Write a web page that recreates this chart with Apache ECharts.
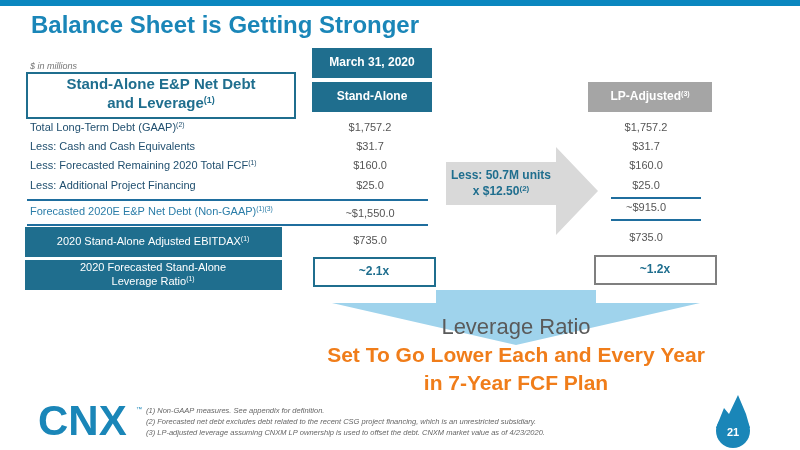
<!DOCTYPE html><html><head><meta charset="utf-8">
<script src="https://cdn.jsdelivr.net/npm/echarts@6/dist/echarts.min.js"></script>
<style>html,body{margin:0;padding:0;background:#fff}#c{width:800px;height:450px}</style></head><body><div id="c"></div>
<script>
const rowLabels=["Total Long-Term Debt (GAAP)","Less: Cash and Cash Equivalents","Less: Forecasted Remaining 2020 Total FCF","Less: Additional Project Financing","Forecasted 2020E E&P Net Debt (Non-GAAP)"];
const rowSups=["(2)","","(1)","","(1)(3)"];
const standAlone=["$1,757.2","$31.7","$160.0","$25.0","~$1,550.0"];
const lpAdjusted=["$1,757.2","$31.7","$160.0","$25.0","~$915.0"];
const ebitdax={label:"2020 Stand-Alone Adjusted EBITDAX",sa:"$735.0",lp:"$735.0"};
const leverage={sa:"~2.1x",lp:"~1.2x"};
const footnotes=["(1) Non-GAAP measures. See appendix for definition.","(2) Forecasted net debt excludes debt related to the recent CSG project financing, which is an unrestricted subsidiary.","(3) LP-adjusted leverage assuming CNXM LP ownership is used to offset the debt. CNXM market value as of 4/23/2020."];
const DB='#1F6E8E',F='Liberation Sans, Arial, sans-serif';
const rowY=[128,147,166,186,212];
const g=[];
const T=(x,y,text,st)=>g.push({type:'text',x,y,style:Object.assign({text,fontFamily:F,verticalAlign:'middle'},st)});
const R=(x,y,w,h,st)=>g.push({type:'rect',shape:{x,y,width:w,height:h},style:st});
R(0,0,800,6,{fill:'#0B87BF'});
T(225,26,'Balance Sheet is Getting Stronger',{fill:'#1A86B8',fontSize:24,fontWeight:'bold',align:'center'});
T(30,66,'$ in millions',{fill:'#777',fontSize:9,fontStyle:'italic'});
R(27,73,268,45,{fill:'#fff',stroke:DB,lineWidth:2});
T(161,85,'Stand-Alone E&P Net Debt',{fill:DB,fontSize:15,fontWeight:'bold',align:'center'});
g.push({type:'text',x:161,y:104,style:{rich:{a:{fontSize:15,fontWeight:'bold',fill:DB,fontFamily:F},s:{fontSize:9,fontWeight:'bold',fill:DB,fontFamily:F,padding:[0,0,6,0]}},text:'{a|and Leverage}{s|(1)}',align:'center',verticalAlign:'middle'}});
R(312,48,120,30,{fill:DB});T(372,63,'March 31, 2020',{fill:'#fff',fontSize:12,fontWeight:'bold',align:'center'});
R(312,82,120,30,{fill:DB});T(372,97,'Stand-Alone',{fill:'#fff',fontSize:12,fontWeight:'bold',align:'center'});
R(588,82,124,30,{fill:'#A5A5A5'});
g.push({type:'text',x:650,y:97,style:{rich:{a:{fontSize:12,fontWeight:'bold',fill:'#fff',fontFamily:F},s:{fontSize:7,fontWeight:'bold',fill:'#fff',fontFamily:F,padding:[0,0,6,0]}},text:'{a|LP-Adjusted}{s|(3)}',align:'center',verticalAlign:'middle'}});
const sup=(main,s,size,col)=>({rich:{a:{fontSize:size,fill:col,fontFamily:F},s:{fontSize:size*0.62,fill:col,fontFamily:F,padding:[0,0,6,0]}},text:'{a|'+main+'}'+(s?'{s|'+s+'}':'')});
rowLabels.forEach((l,i)=>{
  g.push({type:'text',x:30,y:rowY[i],style:Object.assign(sup(l,rowSups[i],11,i==4?'#2B7DA8':'#1F4E6E'),{verticalAlign:'middle'})});
  T(370,rowY[i]+(i==4?2:0),standAlone[i],{fill:'#555',fontSize:11,align:'center'});
  T(646,rowY[i]-(i==4?4:0),lpAdjusted[i],{fill:'#555',fontSize:11,align:'center'});
});
[200,225].forEach(y=>g.push({type:'line',shape:{x1:27,y1:y,x2:428,y2:y},style:{stroke:'#1F6E9E',lineWidth:2}}));
[198,220].forEach(y=>g.push({type:'line',shape:{x1:611,y1:y,x2:701,y2:y},style:{stroke:'#1F6E9E',lineWidth:2}}));
R(25,227,257,30,{fill:DB});
g.push({type:'text',x:153,y:242,style:Object.assign(sup(ebitdax.label,'(1)',11,'#fff'),{align:'center',verticalAlign:'middle'})});
T(370,241,ebitdax.sa,{fill:'#555',fontSize:11,align:'center'});
T(646,238,ebitdax.lp,{fill:'#555',fontSize:11,align:'center'});
R(25,260,257,30,{fill:DB});
T(153,268,'2020 Forecasted Stand-Alone',{fill:'#fff',fontSize:11,align:'center'});
g.push({type:'text',x:153,y:282,style:Object.assign(sup('Leverage Ratio','(1)',11,'#fff'),{align:'center',verticalAlign:'middle'})});
R(314,258,121,28,{fill:'#fff',stroke:DB,lineWidth:2});T(374,272,leverage.sa,{fill:DB,fontSize:12,fontWeight:'bold',align:'center'});
R(595,256,121,28,{fill:'#fff',stroke:'#7F7F7F',lineWidth:2});T(655,270,leverage.lp,{fill:DB,fontSize:12,fontWeight:'bold',align:'center'});
g.push({type:'polygon',shape:{points:[[446,162],[556,162],[556,147],[598,191],[556,235],[556,205],[446,205]]},style:{fill:'#D9D9D9'}});
T(501,176,'Less: 50.7M units',{fill:DB,fontSize:12,fontWeight:'bold',align:'center'});
g.push({type:'text',x:501,y:192,style:{rich:{a:{fontSize:12,fontWeight:'bold',fill:DB,fontFamily:F},s:{fontSize:8,fontWeight:'bold',fill:DB,fontFamily:F,padding:[0,0,6,0]}},text:'{a|x $12.50}{s|(2)}',align:'center',verticalAlign:'middle'}});
g.push({type:'polygon',shape:{points:[[436,290],[596,290],[596,303],[700,303],[516,345],[332,303],[436,303]]},style:{fill:'#9FD3EC'}});
T(516,328,'Leverage Ratio',{fill:'#5A5A5A',fontSize:22,align:'center'});
T(516,356,'Set To Go Lower Each and Every Year',{fill:'#F07D1A',fontSize:21,fontWeight:'bold',align:'center'});
T(516,384,'in 7-Year FCF Plan',{fill:'#F07D1A',fontSize:21,fontWeight:'bold',align:'center'});
T(38,423,'CNX',{fill:'#1A86B8',fontSize:42,fontWeight:'bold',fontFamily:'Liberation Sans, Arial, sans-serif'});
T(136,409,'™',{fill:'#1A86B8',fontSize:6});
footnotes.forEach((f,i)=>T(146,411+i*11,f,{fill:'#666',fontSize:7.5,fontStyle:'italic'}));
g.push({type:'circle',shape:{cx:733,cy:431,r:17},style:{fill:'#1A86B8'}});
g.push({type:'polygon',shape:{points:[[716,428],[724,408],[729,414],[738,395],[746,414],[750,428]]},style:{fill:'#1A86B8'}});
T(733,433,'21',{fill:'#fff',fontSize:11,fontWeight:'bold',align:'center'});
echarts.init(document.getElementById('c')).setOption({animation:false,graphic:g});
</script></body></html>
